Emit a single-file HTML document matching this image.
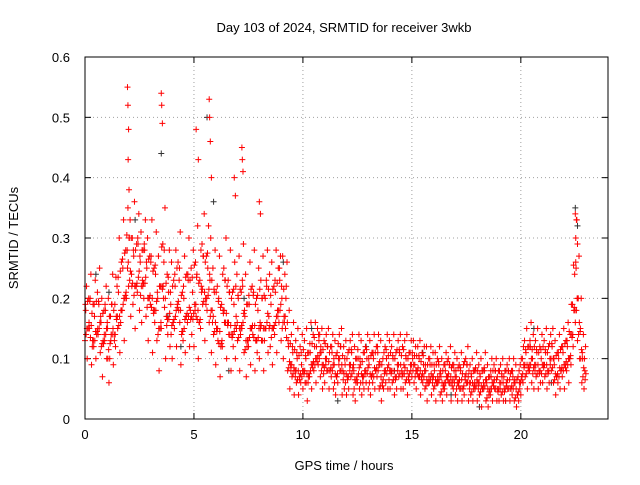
<!DOCTYPE html>
<html><head><meta charset="utf-8"><style>
body{margin:0;background:#fff}
svg text{font-family:"Liberation Sans",sans-serif;font-size:13px;fill:#000}
</style></head><body>
<svg id="chart" width="640" height="480" xmlns="http://www.w3.org/2000/svg">
<text x="344" y="32" text-anchor="middle">Day 103 of 2024, SRMTID for receiver 3wkb</text>
<text x="344" y="470" text-anchor="middle">GPS time / hours</text>
<text transform="translate(18,238) rotate(-90)" text-anchor="middle">SRMTID / TECUs</text>
<g id="grid"></g>
<g id="ticks"></g>
<g id="marks"></g>
<rect x="85" y="57" width="523" height="362" fill="none" stroke="#000" stroke-width="1"/>
</svg>
<script>
const xTicks=[0,5,10,15,20];
const yTicks=[0,0.1,0.2,0.3,0.4,0.5,0.6];
const yTickLabels=["0","0.1","0.2","0.3","0.4","0.5","0.6"];
const seriesStep=0.1;
const midVals=[.18,.15,.2,.12,.17,.14,.19,.16,.13,.18,.15,.1,.19,.14,.17,.21,.16,.25,.2,.28,.3,.24,.27,.22,.29,.26,.23,.28,.25,.2,.27,.18,.24,.2,.15,.22,.28,.17,.21,.19,.16,.22,.19,.25,.14,.2,.17,.23,.18,.21,.19,.24,.16,.22,.27,.2,.25,.23,.18,.21,.15,.2,.12,.18,.23,.16,.21,.14,.19,.17,.2,.14,.22,.17,.12,.19,.15,.21,.13,.18,.16,.2,.13,.22,.17,.19,.15,.21,.18,.23,.2,.17,.22,.12,.09,.11,.08,.1,.07,.09,.08,.1,.06,.11,.09,.12,.1,.13,.11,.09,.1,.12,.08,.11,.09,.07,.1,.12,.08,.09,.07,.09,.11,.08,.06,.1,.09,.07,.08,.1,.09,.07,.1,.08,.11,.09,.06,.08,.1,.09,.08,.1,.07,.09,.11,.08,.09,.1,.07,.09,.1,.09,.08,.1,.07,.09,.08,.06,.09,.07,.08,.06,.09,.07,.05,.08,.07,.09,.06,.08,.07,.06,.08,.05,.07,.09,.06,.07,.05,.08,.06,.07,.05,.08,.06,.04,.07,.06,.08,.05,.06,.07,.05,.06,.08,.05,.07,.06,.04,.06,.07,.09,.11,.08,.12,.1,.09,.11,.08,.1,.09,.11,.08,.1,.12,.09,.07,.1,.08,.11,.09,.12,.1,.14,.18,.25,.2,.15,.1,.08];
const hiVals=[.22,.2,.24,.19,.23,.21,.25,.2,.18,.22,.2,.17,.24,.19,.22,.3,.26,.33,.28,.35,.33,.3,.36,.29,.34,.31,.28,.33,.3,.27,.33,.25,.31,.27,.22,.29,.35,.24,.28,.26,.23,.28,.26,.31,.21,.27,.24,.3,.25,.28,.26,.32,.23,.29,.34,.27,.32,.3,.25,.28,.22,.27,.19,.25,.3,.23,.28,.21,.26,.24,.27,.21,.29,.24,.19,.26,.22,.28,.2,.25,.23,.27,.2,.28,.24,.26,.22,.28,.25,.27,.27,.24,.26,.18,.14,.16,.13,.15,.12,.14,.13,.15,.11,.16,.14,.16,.15,.14,.15,.13,.14,.15,.12,.14,.13,.11,.14,.15,.12,.13,.11,.13,.14,.12,.1,.14,.13,.11,.12,.14,.13,.11,.14,.12,.14,.13,.1,.12,.14,.13,.12,.14,.11,.13,.14,.12,.13,.14,.11,.13,.13,.12,.12,.13,.11,.12,.12,.1,.12,.11,.11,.1,.12,.1,.09,.11,.1,.12,.09,.11,.1,.09,.11,.09,.1,.12,.09,.1,.08,.11,.09,.1,.08,.11,.09,.07,.1,.09,.1,.08,.09,.1,.08,.09,.1,.08,.1,.09,.07,.09,.1,.13,.15,.12,.16,.14,.13,.15,.12,.14,.13,.15,.12,.14,.15,.13,.11,.14,.12,.15,.13,.16,.14,.19,.24,.33,.27,.2,.14,.12];
const loVals=[.13,.1,.15,.09,.12,.1,.14,.11,.07,.13,.1,.06,.14,.09,.12,.15,.11,.18,.13,.2,.22,.17,.19,.15,.21,.18,.16,.2,.17,.13,.19,.11,.16,.13,.08,.15,.2,.1,.14,.12,.1,.15,.12,.18,.09,.13,.11,.16,.12,.14,.12,.17,.1,.15,.19,.13,.18,.16,.11,.14,.09,.13,.07,.12,.16,.1,.14,.08,.12,.1,.13,.08,.15,.11,.07,.12,.09,.14,.08,.11,.1,.13,.08,.15,.11,.12,.09,.14,.11,.16,.13,.1,.15,.08,.05,.07,.04,.06,.04,.06,.05,.06,.03,.07,.05,.08,.06,.09,.07,.05,.06,.08,.05,.07,.05,.04,.06,.08,.04,.05,.04,.05,.07,.04,.03,.06,.05,.04,.05,.06,.05,.04,.06,.05,.07,.05,.03,.05,.06,.05,.05,.06,.04,.05,.07,.05,.05,.06,.04,.06,.07,.06,.05,.07,.04,.06,.05,.03,.06,.04,.05,.03,.06,.04,.03,.05,.04,.06,.03,.05,.04,.03,.05,.03,.04,.06,.03,.04,.03,.05,.03,.04,.02,.05,.03,.02,.04,.03,.05,.03,.03,.04,.03,.03,.05,.03,.04,.03,.02,.03,.04,.06,.07,.05,.08,.06,.05,.07,.05,.06,.06,.07,.05,.06,.08,.06,.04,.06,.05,.07,.05,.08,.06,.09,.12,.16,.13,.1,.06,.05];
const spikeTimes=[1.95,1.97,2.0,1.98,2.02,3.5,3.52,3.55,5.1,5.2,5.7,5.72,5.75,5.8,6.85,6.9,7.2,7.22,7.25,8.0,8.05,22.5,22.55,22.52,22.6];
const spikeVals=[.55,.52,.48,.43,.38,.54,.52,.49,.48,.43,.53,.5,.46,.4,.4,.37,.45,.43,.41,.36,.34,.34,.33,.3,.29];
const blackTimes=[0.5,1.1,2.3,3.5,3.8,4.4,5.6,5.9,6.6,7.3,9.1,10.4,11.6,12.9,14.2,15.5,16.8,18.1,19.3,20.6,21.4,22.5,22.6];
const blackVals=[.24,.21,.33,.44,.17,.12,.5,.36,.08,.2,.26,.15,.03,.12,.08,.11,.04,.02,.03,.15,.06,.35,.32];

const X0=85,X1=608,Y0=419,Y1=57;
const xs=t=>X0+t*(X1-X0)/24;
const ys=v=>Y0-v*(Y0-Y1)/0.6;
const NS='http://www.w3.org/2000/svg';
const grid=document.getElementById('grid'),ticks=document.getElementById('ticks'),marks=document.getElementById('marks');
function mk(tag,attrs,parent){const e=document.createElementNS(NS,tag);for(const k in attrs)e.setAttribute(k,attrs[k]);parent.appendChild(e);return e;}
xTicks.forEach(t=>{
 const x=xs(t);
 if(t>0){const g=mk('line',{x1:x,x2:x,y1:Y0,y2:Y1,stroke:'#a0a0a0','stroke-dasharray':'1,3'},grid);
 
 }
 mk('line',{x1:x,x2:x,y1:Y0,y2:Y0-6,stroke:'#000'},ticks);
 mk('line',{x1:x,x2:x,y1:Y1,y2:Y1+6,stroke:'#000'},ticks);
 const l=mk('text',{x:x,y:Y0+20,'text-anchor':'middle'},ticks);l.textContent=t;
 
 
});
yTicks.forEach((v,i)=>{
 const y=ys(v);
 if(i>0&&i<yTicks.length-1){const g=mk('line',{x1:X0,x2:X1,y1:y,y2:y,stroke:'#a0a0a0','stroke-dasharray':'1,3'},grid);
 
 }
 mk('line',{x1:X0,x2:X0+6,y1:y,y2:y,stroke:'#000'},ticks);
 mk('line',{x1:X1,x2:X1-6,y1:y,y2:y,stroke:'#000'},ticks);
 const l=mk('text',{x:X0-15,y:y+5,'text-anchor':'end'},ticks);l.textContent=yTickLabels[i];
 
 
});
function plus(t,v,color){
 const x=xs(t),y=ys(v);
 const p=mk('path',{d:`M${x-3} ${y}H${x+3}M${x} ${y-3}V${y+3}`,stroke:color,'stroke-width':1,fill:'none'},marks);
 
 
}
blackTimes.forEach((t,i)=>plus(t,blackVals[i],'#333'));
[[loVals,0.0],[midVals,0.035],[hiVals,0.07]].forEach(([arr,off])=>{
 arr.forEach((v,i)=>plus(i*seriesStep+off,v,'#f00'));
});
// fill between the sampled bands (readings between lo/mid and mid/hi envelopes)
loVals.forEach((v,i)=>{
 const j=Math.min(i+1,loVals.length-1);
 plus(i*seriesStep+0.05,(v+midVals[j])/2,'#f00');
 plus(i*seriesStep+0.02,(midVals[i]+hiVals[j])/2,'#f00');
 plus(i*seriesStep+0.085,(loVals[j]+midVals[i])/2+0.01,'#f00');
});
spikeTimes.forEach((t,i)=>plus(t,spikeVals[i],'#f00'));
</script>
</body></html>
